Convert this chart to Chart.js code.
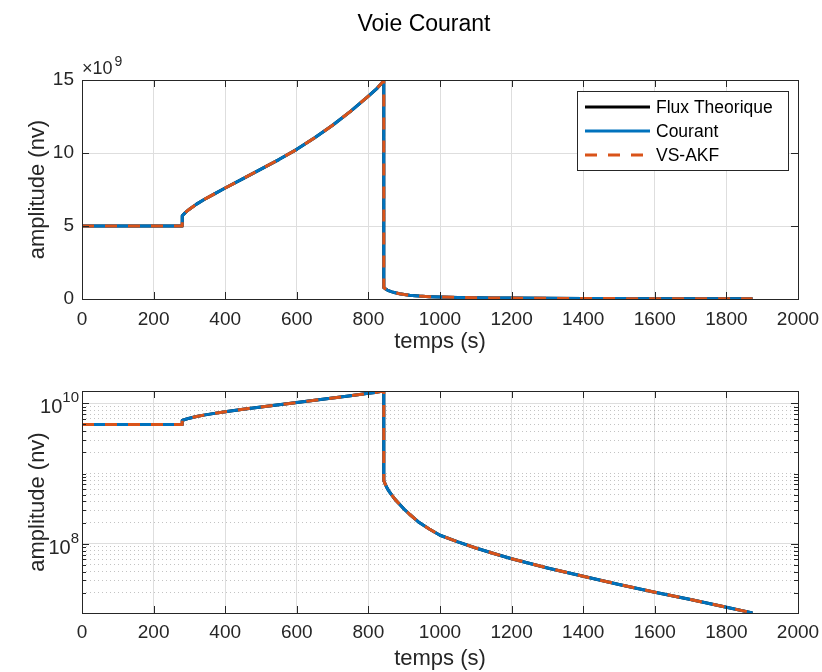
<!DOCTYPE html>
<html>
<head>
<meta charset="utf-8">
<script src="https://cdn.jsdelivr.net/npm/chart.js@4.4.1/dist/chart.umd.min.js"></script>
<style>
  body { margin: 0; background: #fff; }
  canvas { display: block; }
</style>
</head>
<body>
<canvas id="haut" width="822" height="360"></canvas>
<canvas id="bas" width="822" height="312"></canvas>
<script>
const temps = [0, 280, 280, 290, 300, 320, 340, 370, 400, 450, 500, 550, 600, 650, 700, 750, 800, 825, 843,
    843, 848, 853, 858, 866, 875, 887, 900, 915, 930, 942, 970, 1000, 1050, 1100, 1150, 1200,
    1300, 1400, 1500, 1600, 1700, 1800, 1873];
const fluxTheorique = [5.0e9, 5.0e9, 5.7e9, 5.95e9, 6.15e9, 6.5e9, 6.8e9, 7.2e9, 7.6e9, 8.25e9, 8.9e9,
    9.55e9, 10.25e9, 11.05e9, 11.9e9, 12.85e9, 13.9e9, 14.45e9, 14.95e9,
    7.9e8, 6.9e8, 6.1e8, 5.55e8, 4.9e8, 4.25e8, 3.65e8, 3.1e8, 2.63e8, 2.26e8, 2.0e8, 1.62e8, 1.32e8,
    1.06e8, 8.7e7, 7.25e7, 6.1e7, 4.52e7, 3.43e7, 2.63e7, 2.04e7, 1.6e7, 1.245e7, 1.035e7];
// les deux estimations se superposent a la courbe theorique
const courant = fluxTheorique.slice();
const vsAkf = fluxTheorique.slice();

const xTicks = [0, 200, 400, 600, 800, 1000, 1200, 1400, 1600, 1800, 2000];
const yTicksLin = [0, 5e9, 10e9, 15e9];
const yLabelsLog = [1e8, 1e10];

const FONT = "'Liberation Sans', Arial, Helvetica, sans-serif";
const TXT = '#262626';
const GRID = '#dedede';
const GRID_MIN = 'rgba(38,38,38,0.28)';

function points(vals) {
    return temps.map((t, i) => ({ x: t, y: vals[i] }));
}

function makeDatasets() {
    return [
        { label: 'Flux Theorique', data: points(fluxTheorique), borderColor: '#000000', borderWidth: 3, order: 3 },
        { label: 'Courant', data: points(courant), borderColor: '#0072BD', borderWidth: 3, order: 2 },
        { label: 'VS-AKF', data: points(vsAkf), borderColor: '#D95319', borderWidth: 3, borderDash: [12, 11], order: 1 }
    ].map(d => Object.assign(d, { showLine: true, pointRadius: 0, tension: 0, fill: false, borderCapStyle: 'butt', borderJoinStyle: 'round' }));
}

function isMajorLog(v) {
    return yLabelsLog.some(m => Math.abs(v - m) < m * 1e-6);
}

// cadre et graduations interieures facon matlab
const cadreMatlab = {
    id: 'cadreMatlab',
    afterDatasetsDraw(chart) {
        const { ctx, chartArea: a } = chart;
        const sx = chart.scales.x, sy = chart.scales.y;
        const log = sy.type === 'logarithmic';
        ctx.save();
        ctx.strokeStyle = TXT;
        ctx.lineWidth = 1;
        ctx.beginPath();
        sx.ticks.forEach(t => {
            const px = Math.round(sx.getPixelForValue(t.value)) + 0.5;
            ctx.moveTo(px, a.bottom); ctx.lineTo(px, a.bottom - 7);
            ctx.moveTo(px, a.top); ctx.lineTo(px, a.top + 7);
        });
        sy.ticks.forEach(t => {
            const len = (!log || isMajorLog(t.value)) ? 7 : 4;
            const py = Math.round(sy.getPixelForValue(t.value)) + 0.5;
            ctx.moveTo(a.left, py); ctx.lineTo(a.left + len, py);
            ctx.moveTo(a.right, py); ctx.lineTo(a.right - len, py);
        });
        ctx.stroke();
        ctx.strokeRect(Math.round(a.left) + 0.5, Math.round(a.top) + 0.5,
            Math.round(a.right - a.left), Math.round(a.bottom - a.top));
        ctx.restore();
    }
};

// titre, exposant x10^9 et legende du graphe du haut
const decorHaut = {
    id: 'decorHaut',
    afterDraw(chart) {
        const { ctx, chartArea: a } = chart;
        ctx.save();
        ctx.fillStyle = '#000';
        ctx.font = '23px ' + FONT;
        ctx.textAlign = 'center';
        ctx.textBaseline = 'middle';
        ctx.fillText('Voie Courant', 424, 25);

        ctx.fillStyle = TXT;
        ctx.textAlign = 'left';
        ctx.textBaseline = 'alphabetic';
        ctx.font = '18px ' + FONT;
        ctx.fillText('\u00d710', a.left, a.top - 6);
        const w = ctx.measureText('\u00d710').width;
        ctx.font = '14px ' + FONT;
        ctx.fillText('9', a.left + w + 2, a.top - 14);

        // legende
        const bx = a.right - 221, by = a.top + 11, bw = 211, bh = 79;
        ctx.fillStyle = '#fff';
        ctx.fillRect(bx, by, bw, bh);
        ctx.strokeStyle = '#262626';
        ctx.lineWidth = 1;
        ctx.strokeRect(bx + 0.5, by + 0.5, bw, bh);
        ctx.font = '17.5px ' + FONT;
        ctx.textBaseline = 'middle';
        chart.data.datasets.forEach((d, i) => {
            const y = by + 16 + i * 24;
            ctx.save();
            ctx.strokeStyle = d.borderColor;
            ctx.lineWidth = 3;
            ctx.setLineDash(d.borderDash || []);
            ctx.beginPath();
            ctx.moveTo(bx + 8, y); ctx.lineTo(bx + 73, y);
            ctx.stroke();
            ctx.restore();
            ctx.fillStyle = '#000';
            ctx.fillText(d.label, bx + 79, y + 1);
        });
        ctx.restore();
    }
};

// etiquettes 10^n de l'axe log
const etiquettesLog = {
    id: 'etiquettesLog',
    afterDraw(chart) {
        const { ctx, chartArea: a } = chart;
        const sy = chart.scales.y;
        ctx.save();
        ctx.fillStyle = TXT;
        ctx.textBaseline = 'alphabetic';
        ctx.textAlign = 'right';
        yLabelsLog.forEach(v => {
            const py = sy.getPixelForValue(v);
            const exp = String(Math.round(Math.log10(v)));
            ctx.font = '15px ' + FONT;
            const we = ctx.measureText(exp).width;
            const xr = a.left - 3;
            ctx.fillText(exp, xr, py - 1);
            ctx.font = '20px ' + FONT;
            ctx.fillText('10', xr - we, py + 10);
        });
        ctx.restore();
    }
};

function xScale(h, pad, titlePad) {
    return {
        type: 'linear', min: 0, max: 2000,
        afterBuildTicks: s => { s.ticks = xTicks.map(v => ({ value: v })); },
        afterFit: s => { s.height = h; s.paddingLeft = 0; s.paddingRight = 0; },
        grid: { color: GRID, lineWidth: 1, drawTicks: false },
        border: { display: false },
        ticks: { autoSkip: false, maxRotation: 0, padding: pad, color: TXT, font: { family: FONT, size: 19 }, callback: v => String(v) },
        title: { display: true, text: 'temps (s)', color: TXT, font: { family: FONT, size: 22 }, padding: { top: 0, bottom: titlePad } }
    };
}

const yTitle = { display: true, text: 'amplitude (nv)', color: TXT, font: { family: FONT, size: 22 }, padding: { top: 25, bottom: 0 } };

new Chart(document.getElementById('haut'), {
    type: 'scatter',
    data: { datasets: makeDatasets() },
    options: {
        responsive: false, animation: false,
        layout: { padding: { left: 0, right: 24, top: 80, bottom: 0 } },
        plugins: { legend: { display: false }, tooltip: { enabled: false } },
        scales: {
            x: xScale(61, 9, 5),
            y: {
                type: 'linear', min: 0, max: 15e9,
                afterBuildTicks: s => { s.ticks = yTicksLin.map(v => ({ value: v })); },
                afterFit: s => { s.width = 82; },
                grid: { color: GRID, lineWidth: 1, drawTicks: false },
                border: { display: false },
                ticks: { padding: 8, color: TXT, font: { family: FONT, size: 19 }, callback: v => String(v / 1e9) },
                title: yTitle
            }
        }
    },
    plugins: [cadreMatlab, decorHaut]
});

new Chart(document.getElementById('bas'), {
    type: 'scatter',
    data: { datasets: makeDatasets() },
    options: {
        responsive: false, animation: false,
        layout: { padding: { left: 0, right: 24, top: 31, bottom: 0 } },
        plugins: { legend: { display: false }, tooltip: { enabled: false } },
        scales: {
            x: xScale(59, 8, 0),
            y: {
                type: 'logarithmic', min: 1.03e7, max: 1.5e10, bounds: 'data',
                afterBuildTicks: s => {
                    const t = [];
                    for (let n = 7; n <= 10; n++) {
                        for (let k = 1; k <= 9; k++) {
                            const v = k * Math.pow(10, n);
                            if (v >= s.min && v <= s.max) t.push({ value: v });
                        }
                    }
                    s.ticks = t;
                },
                afterFit: s => { s.width = 82; },
                grid: {
                    drawTicks: false,
                    color: c => (c.tick && isMajorLog(c.tick.value)) ? GRID : GRID_MIN
                },
                border: {
                    display: false,
                    dash: c => (c.tick && !isMajorLog(c.tick.value)) ? [1, 3] : []
                },
                ticks: { display: false, autoSkip: false },
                title: yTitle
            }
        }
    },
    plugins: [cadreMatlab, etiquettesLog]
});
</script>
</body>
</html>
